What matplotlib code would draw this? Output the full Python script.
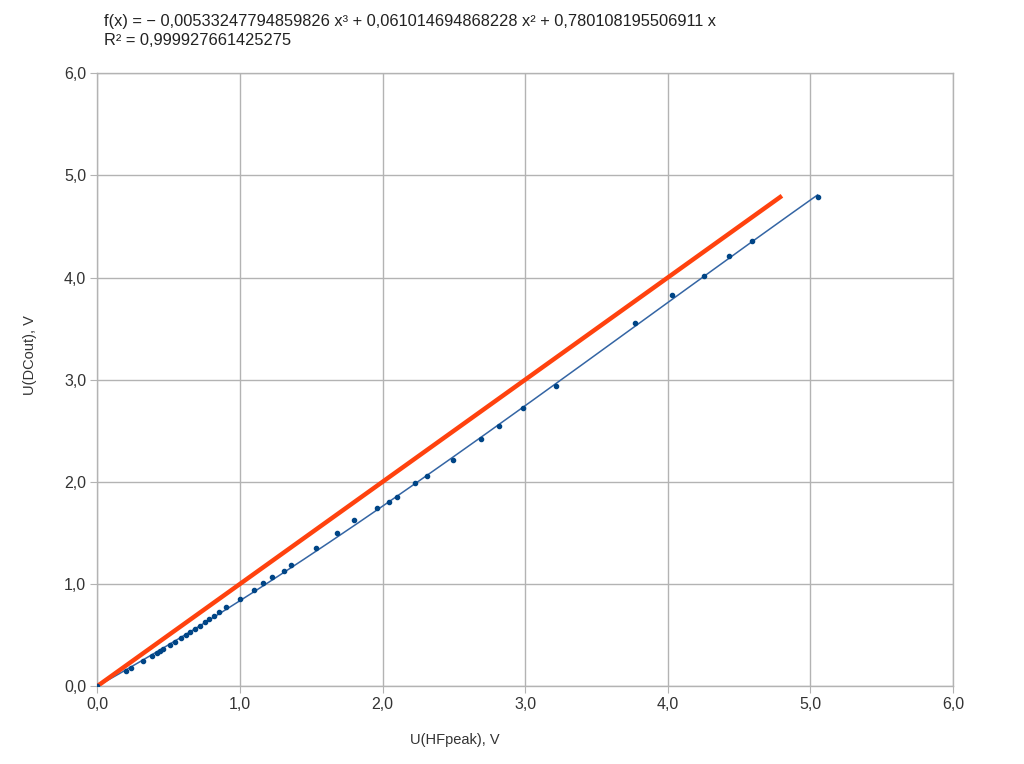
import numpy as np
import matplotlib
matplotlib.use("Agg")
import matplotlib.pyplot as plt
from matplotlib.ticker import FuncFormatter, MultipleLocator

plt.rcParams["font.family"] = ["Liberation Sans", "DejaVu Sans"]

# measured points: U(HFpeak) vs U(DCout)
hf_peak = [0.0, 0.20, 0.234, 0.318, 0.381, 0.416, 0.437, 0.458, 0.507, 0.542,
           0.584, 0.619, 0.647, 0.682, 0.717, 0.752, 0.780, 0.815, 0.850, 0.899,
           0.997, 1.101, 1.164, 1.227, 1.311, 1.360, 1.535, 1.682, 1.801, 1.962,
           2.045, 2.101, 2.227, 2.311, 2.493, 2.689, 2.815, 2.983, 3.213, 3.773,
           4.031, 4.255, 4.430, 4.591, 5.05]
dc_out = [0.0, 0.147, 0.176, 0.245, 0.294, 0.323, 0.343, 0.362, 0.402, 0.431,
          0.470, 0.500, 0.529, 0.558, 0.588, 0.627, 0.656, 0.686, 0.725, 0.774,
          0.852, 0.940, 1.009, 1.068, 1.126, 1.185, 1.352, 1.499, 1.626, 1.743,
          1.802, 1.851, 1.988, 2.057, 2.214, 2.419, 2.547, 2.723, 2.938, 3.555,
          3.829, 4.016, 4.212, 4.358, 4.79]

# ideal reference line
ideal_x = [0.0, 4.8]
ideal_y = [0.0, 4.8]

# trendline coefficients (cubic, no intercept) as shown on the chart
coef = [-0.00533247794859826, 0.061014694868228, 0.780108195506911, 0.0]
eq_text = ("f(x) = \u2212 0,00533247794859826 x\u00b3 + 0,061014694868228 x\u00b2"
           " + 0,780108195506911 x\nR\u00b2 = 0,999927661425275")

C_DOT = "#004586"
C_FIT = "#3465a4"
C_REF = "#ff420e"
C_GRID = "#b3b3b3"

fig = plt.figure(figsize=(10.24, 7.64), dpi=100)
ax = fig.add_axes([0.0952, 0.1021, 0.8355, 0.8020])

tx = np.linspace(0, max(hf_peak), 200)
ax.plot(tx, np.polyval(coef, tx), color=C_FIT, lw=1.1, zorder=2)
ax.plot(ideal_x, ideal_y, color=C_REF, lw=3.2, solid_capstyle="butt", zorder=3)
ax.plot(hf_peak, dc_out, ls="none", marker="o", ms=3, color=C_DOT, zorder=4)

ax.set_xlim(0, 6); ax.set_ylim(0, 6)
ax.xaxis.set_major_locator(MultipleLocator(1))
ax.yaxis.set_major_locator(MultipleLocator(1))
fmt = FuncFormatter(lambda v, _: f"{v:.1f}".replace(".", ","))
ax.xaxis.set_major_formatter(fmt)
ax.yaxis.set_major_formatter(fmt)
ax.grid(True, color=C_GRID, lw=1.0)
ax.set_axisbelow(True)
for s in ax.spines.values():
    s.set_color(C_GRID); s.set_linewidth(1.0)
ax.tick_params(length=5, color=C_GRID, labelsize=11.5, labelcolor="#333333", pad=3)

fig.text(455 / 1024, 1 - 740 / 764, "U(HFpeak), V", ha="center", va="center",
         fontsize=10.5, color="#333333")
fig.text(30 / 1024, 1 - 355 / 764, "U(DCout), V", ha="center", va="center",
         rotation=90, fontsize=10.5, color="#333333")

fig.text(104 / 1024, 1 - 14 / 764, eq_text, ha="left", va="top", fontsize=11.8,
         color="#222222", linespacing=1.3)

fig.savefig("out.png", dpi=100)
